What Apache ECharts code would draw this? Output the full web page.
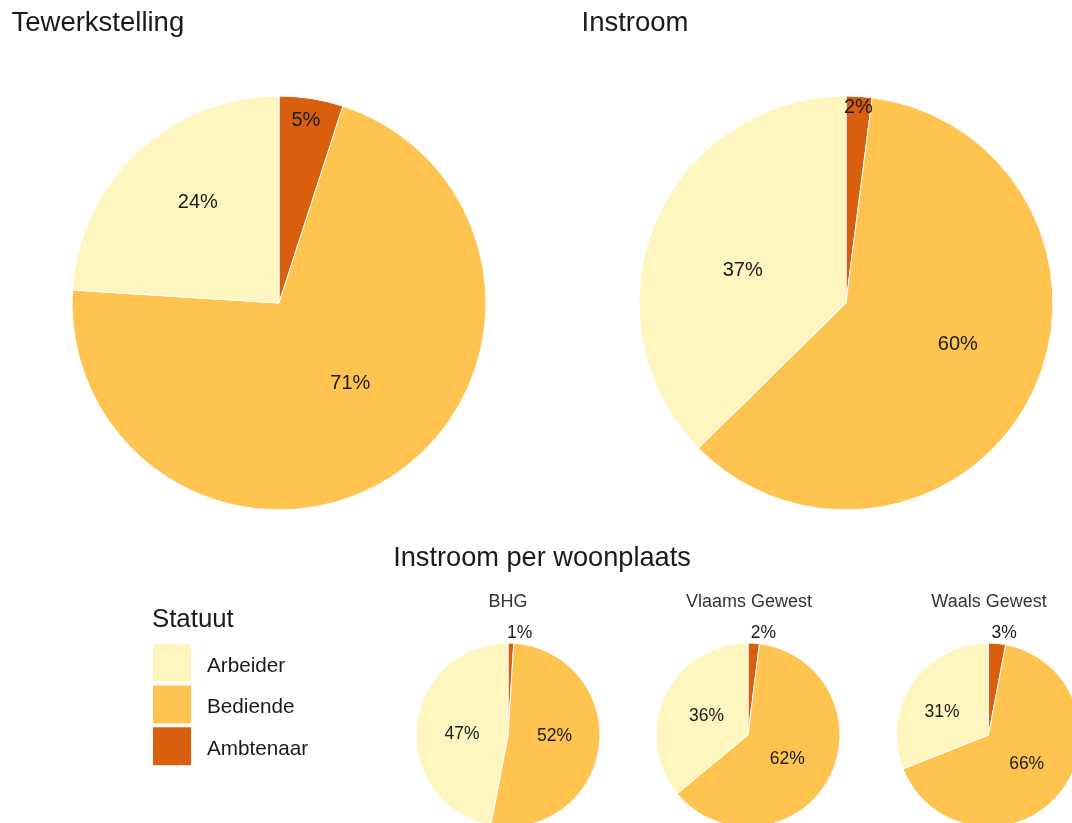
<!DOCTYPE html>
<html>
<head>
<meta charset="utf-8">
<script src="https://cdn.jsdelivr.net/npm/echarts@6/dist/echarts.min.js"></script>
<style>
  html, body { margin: 0; padding: 0; background: #ffffff; }
  #chart { width: 1072px; height: 823px; }
</style>
</head>
<body>
<div id="chart"></div>
<script>
// Statuut categories in drawing order (clockwise from 12 o'clock)
const statuten = ['Ambtenaar', 'Bediende', 'Arbeider'];
// Legend order
const legendOrder = ['Arbeider', 'Bediende', 'Ambtenaar'];

// Shares in % per statuut (same order as statuten)
const tewerkstelling = [5, 71, 24];
const instroom = [2, 60, 37];
const instroomBHG = [1, 52, 47];
const instroomVlaams = [2, 62, 36];
const instroomWaals = [3, 66, 31];

const regioTitels = ['BHG', 'Vlaams Gewest', 'Waals Gewest'];

// Styling
const kleuren = { Arbeider: '#FFF5BF', Bediende: '#FEC44F', Ambtenaar: '#D95F0E' };
const FONT = "'Liberation Sans', Arial, Helvetica, sans-serif";
const TXT = '#1a1a1a';

// Pie geometry (px); label placement per slice: radius fraction and angle nudge (degrees)
const pies = [
  { values: tewerkstelling, center: [279, 303], r: 207, labelR: [0.889, 0.521, 0.624], labelDA: [-0.6, -7.2, 4.3], fs: 20 },
  { values: instroom,       center: [846, 303], r: 207, labelR: [0.948, 0.576, 0.523], labelDA: [0, -6, -5.2], fs: 20 },
  { values: instroomBHG,    center: [508, 735], r: 92,  labelR: [1.116, 0.505, 0.50], labelDA: [4.7, -6, -4.8], fs: 17.5 },
  { values: instroomVlaams, center: [748, 735], r: 92,  labelR: [1.12, 0.50, 0.496], labelDA: [5, 2.5, -0.6], fs: 17.5 },
  { values: instroomWaals,  center: [988.5, 735], r: 92, labelR: [1.12, 0.52, 0.56], labelDA: [3.3, -2.5, -8.4], fs: 17.5 }
];

function midAngle(values, idx) {
  const total = values.reduce((a, b) => a + b, 0);
  let before = 0;
  for (let i = 0; i < idx; i++) before += values[i];
  return ((before + values[idx] / 2) / total) * Math.PI * 2; // clockwise from top
}

const series = pies.map((p) => ({
  type: 'pie',
  center: p.center,
  radius: p.r,
  startAngle: 90,
  clockwise: true,
  avoidLabelOverlap: false,
  silent: true,
  itemStyle: { borderColor: '#ffffff', borderWidth: 1 },
  label: {
    show: true,
    position: 'inside',
    formatter: '{c}%',
    fontFamily: FONT,
    fontSize: p.fs,
    color: TXT
  },
  labelLine: { show: false },
  labelLayout: function (params) {
    const i = params.dataIndex;
    const a = midAngle(p.values, i) + (p.labelDA[i] * Math.PI) / 180;
    const rr = p.r * p.labelR[i];
    return {
      x: p.center[0] + Math.sin(a) * rr,
      y: p.center[1] - Math.cos(a) * rr,
      align: 'center',
      verticalAlign: 'middle'
    };
  },
  data: statuten.map((name, i) => ({
    name: name,
    value: p.values[i],
    itemStyle: { color: kleuren[name] }
  }))
}));

function tekst(text, x, y, size, align, color) {
  return {
    type: 'text',
    x: x,
    y: y,
    silent: true,
    style: {
      text: text,
      fontFamily: FONT,
      fontSize: size,
      fill: color || TXT,
      align: align,
      verticalAlign: 'middle'
    }
  };
}

const option = {
  backgroundColor: '#ffffff',
  animation: false,
  graphic: [
    tekst('Tewerkstelling', 11.5, 23, 27.5, 'left'),
    tekst('Instroom', 635, 23, 27.5, 'center'),
    tekst('Instroom per woonplaats', 542, 558.5, 27.2, 'center'),
    tekst('Statuut', 152, 619.5, 25.8, 'left'),
    tekst(regioTitels[0], 508, 602, 18, 'center', '#333333'),
    tekst(regioTitels[1], 749, 602, 18, 'center', '#333333'),
    tekst(regioTitels[2], 989, 602, 18, 'center', '#333333')
  ],
  legend: {
    data: legendOrder,
    orient: 'vertical',
    left: 153,
    top: 644,
    padding: 0,
    icon: 'rect',
    itemWidth: 38,
    itemHeight: 38,
    itemGap: 3.6,
    selectedMode: false,
    itemStyle: { borderWidth: 0 },
    formatter: '{n|{name}}',
    textStyle: {
      fontFamily: FONT,
      fontSize: 20.7,
      color: TXT,
      padding: [0, 0, 0, 11],
      rich: {
        n: {
          fontFamily: FONT,
          fontSize: 20.7,
          color: TXT,
          padding: [6, 0, 0, 0]
        }
      }
    }
  },
  series: series
};

const chart = echarts.init(document.getElementById('chart'), null, { renderer: 'canvas' });
chart.setOption(option);
</script>
</body>
</html>
